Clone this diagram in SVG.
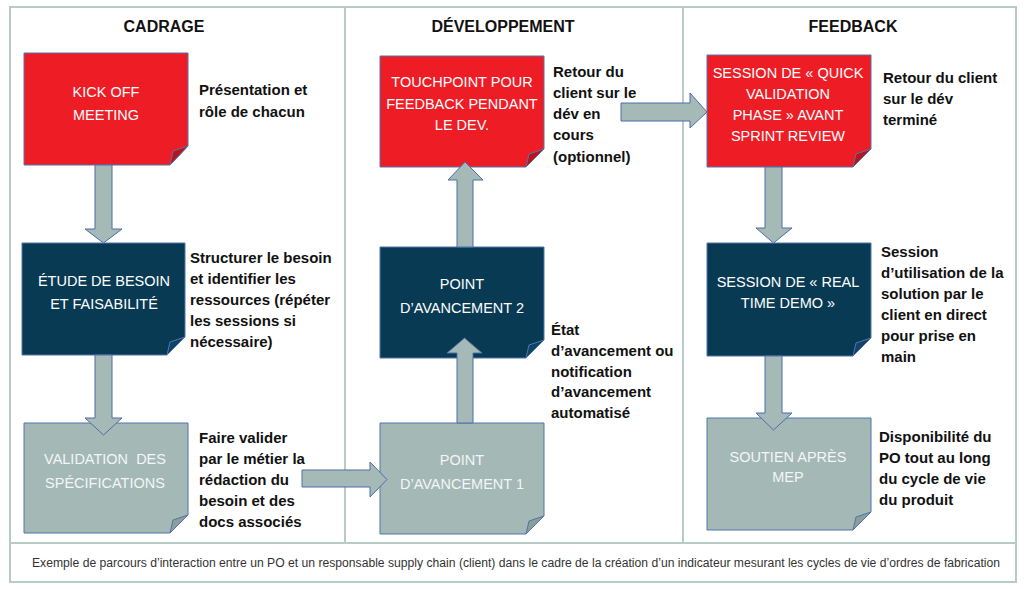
<svg xmlns="http://www.w3.org/2000/svg" width="1024" height="589" viewBox="0 0 1024 589">
<style>
.frame{fill:none;stroke:#B9CBC7;stroke-width:2}
.hdr{font-family:"Liberation Sans",Arial,sans-serif;font-weight:bold;font-size:16px;fill:#111;text-anchor:middle}
.box{stroke:#5374AC;stroke-width:1}
.red{fill:#EE1C25}.navy{fill:#083A54}.gray{fill:#A4B8B5}
.fred{fill:#B8141B}.fnavy{fill:#0C4566}.fgray{fill:#8A9E9B}
.fold{stroke:#5374AC;stroke-width:1}
.bt{font-family:"Liberation Sans",Arial,sans-serif;font-size:14.5px;fill:#fff;text-anchor:middle}
.bt2{font-family:"Liberation Sans",Arial,sans-serif;font-size:14.5px;fill:#F3F6F6;text-anchor:middle}
.desc{font-family:"Liberation Sans",Arial,sans-serif;font-weight:bold;font-size:15px;fill:#111}
.arr{fill:#A5B9B6;stroke:#4C6FA6;stroke-width:1}
.cap{font-family:"Liberation Sans",Arial,sans-serif;font-size:12px;fill:#333}
</style>
<rect x="0" y="0" width="1024" height="589" fill="#fff"/>
<g id="frame">
<rect class="frame" x="10" y="7" width="1006" height="575"/>
<line class="frame" x1="345" y1="7" x2="345" y2="543"/>
<line class="frame" x1="683" y1="7" x2="683" y2="543"/>
<line class="frame" x1="10" y1="543" x2="1016" y2="543"/>
<text class="hdr" x="164" y="32">CADRAGE</text>
<text class="hdr" x="503" y="32">DÉVELOPPEMENT</text>
<text class="hdr" x="853" y="32">FEEDBACK</text>
<text class="cap" x="32" y="567" textLength="968" lengthAdjust="spacingAndGlyphs">Exemple de parcours d’interaction entre un PO et un responsable supply chain (client) dans le cadre de la création d’un indicateur mesurant les cycles de vie d’ordres de fabrication</text>
</g>

<g id="kickoff">
<polygon class="box red" points="24,53 188,53 188,146 170,165 24,165"/>
<polygon class="fold fred" points="188,146 173,151 170,165"/>
<text class="bt" x="106" y="97">KICK OFF</text>
<text class="bt" x="106" y="120">MEETING</text>
<text class="desc" x="199" y="95">Présentation et</text>
<text class="desc" x="199" y="117">rôle de chacun</text>
</g>

<g id="etude">
<polygon class="box navy" points="22,243 185,243 185,337 167,355 22,355"/>
<polygon class="fold fnavy" points="185,337 170,342 167,355"/>
<text class="bt" x="104" y="286">ÉTUDE DE BESOIN</text>
<text class="bt" x="104" y="309">ET FAISABILITÉ</text>
<text class="desc" x="190" y="263">Structurer le besoin</text>
<text class="desc" x="190" y="284">et identifier les</text>
<text class="desc" x="190" y="305">ressources (répéter</text>
<text class="desc" x="190" y="326">les sessions si</text>
<text class="desc" x="190" y="347">nécessaire)</text>
</g>

<g id="validation">
<polygon class="box gray" points="24,423 188,423 188,515 170,533 24,533"/>
<polygon class="fold fgray" points="188,515 173,520 170,533"/>
<text class="bt2" x="105" y="464" xml:space="preserve">VALIDATION  DES</text>
<text class="bt2" x="105" y="488">SPÉCIFICATIONS</text>
<text class="desc" x="199" y="443">Faire valider</text>
<text class="desc" x="199" y="464">par le métier la</text>
<text class="desc" x="199" y="485">rédaction du</text>
<text class="desc" x="199" y="506">besoin et des</text>
<text class="desc" x="199" y="527">docs associés</text>
</g>

<g id="point1">
<polygon class="box gray" points="380,423 544,423 544,516 526,534 380,534"/>
<polygon class="fold fgray" points="544,516 529,521 526,534"/>
<text class="bt2" x="462" y="465">POINT</text>
<text class="bt2" x="462" y="489">D’AVANCEMENT 1</text>
</g>

<g id="point2">
<polygon class="box navy" points="380,247 544,247 544,340 526,358 380,358"/>
<polygon class="fold fnavy" points="544,340 529,345 526,358"/>
<text class="bt" x="462" y="289">POINT</text>
<text class="bt" x="462" y="313">D’AVANCEMENT 2</text>
<text class="desc" x="551" y="335">État</text>
<text class="desc" x="551" y="356">d’avancement ou</text>
<text class="desc" x="551" y="377">notification</text>
<text class="desc" x="551" y="397">d’avancement</text>
<text class="desc" x="551" y="418">automatisé</text>
</g>

<g id="touchpoint">
<polygon class="box red" points="380,56 544,56 544,149 526,167 380,167"/>
<polygon class="fold fred" points="544,149 529,154 526,167"/>
<text class="bt" x="462" y="87">TOUCHPOINT POUR</text>
<text class="bt" x="462" y="109">FEEDBACK PENDANT</text>
<text class="bt" x="462" y="130">LE DEV.</text>
<text class="desc" x="553" y="77">Retour du</text>
<text class="desc" x="553" y="98">client sur le</text>
<text class="desc" x="553" y="119">dév en</text>
<text class="desc" x="553" y="140">cours</text>
<text class="desc" x="553" y="162">(optionnel)</text>
</g>

<g id="quick">
<polygon class="box red" points="707,55 871,55 871,149 853,167 707,167"/>
<polygon class="fold fred" points="871,149 856,154 853,167"/>
<text class="bt" x="788" y="78">SESSION DE « QUICK</text>
<text class="bt" x="788" y="99">VALIDATION</text>
<text class="bt" x="788" y="120">PHASE » AVANT</text>
<text class="bt" x="788" y="141">SPRINT REVIEW</text>
<text class="desc" x="883" y="83">Retour du client</text>
<text class="desc" x="883" y="104">sur le dév</text>
<text class="desc" x="883" y="125">terminé</text>
</g>

<g id="realtime">
<polygon class="box navy" points="707,243 871,243 871,338 853,356 707,356"/>
<polygon class="fold fnavy" points="871,338 856,343 853,356"/>
<text class="bt" x="788" y="287">SESSION DE « REAL</text>
<text class="bt" x="788" y="308">TIME DEMO »</text>
<text class="desc" x="881" y="257">Session</text>
<text class="desc" x="881" y="278">d’utilisation de la</text>
<text class="desc" x="881" y="299">solution par le</text>
<text class="desc" x="881" y="320">client en direct</text>
<text class="desc" x="881" y="341">pour prise en</text>
<text class="desc" x="881" y="362">main</text>
</g>

<g id="soutien">
<polygon class="box gray" points="707,418 871,418 871,512 853,530 707,530"/>
<polygon class="fold fgray" points="871,512 856,517 853,530"/>
<text class="bt2" x="788" y="462">SOUTIEN APRÈS</text>
<text class="bt2" x="788" y="482">MEP</text>
<text class="desc" x="879" y="442">Disponibilité du</text>
<text class="desc" x="879" y="463">PO tout au long</text>
<text class="desc" x="879" y="484">du cycle de vie</text>
<text class="desc" x="879" y="505">du produit</text>
</g>

<g id="connectors">
<polygon class="arr" points="95,165 112,165 112,229 122,229 103.5,243 85,229 95,229"/>
<polygon class="arr" points="95,355 112,355 112,418 122,418 103.5,435 85,418 95,418"/>
<polygon class="arr" points="302,470 370,470 370,462 387,479.5 370,497 370,487 302,487"/>
<polygon class="arr" points="457,423 457,353 447,353 464.5,338 482,353 473,353 473,423"/>
<polygon class="arr" points="457,247 457,180 448,180 465,162 483,180 473,180 473,247"/>
<polygon class="arr" points="621,103 690,103 690,93 707,112 690,128 690,121 621,121"/>
<polygon class="arr" points="765,167 782,167 782,228 792,228 773.5,243 756,228 765,228"/>
<polygon class="arr" points="765,356 782,356 782,413 792,413 773.5,430 756,413 765,413"/>
</g>
</svg>
